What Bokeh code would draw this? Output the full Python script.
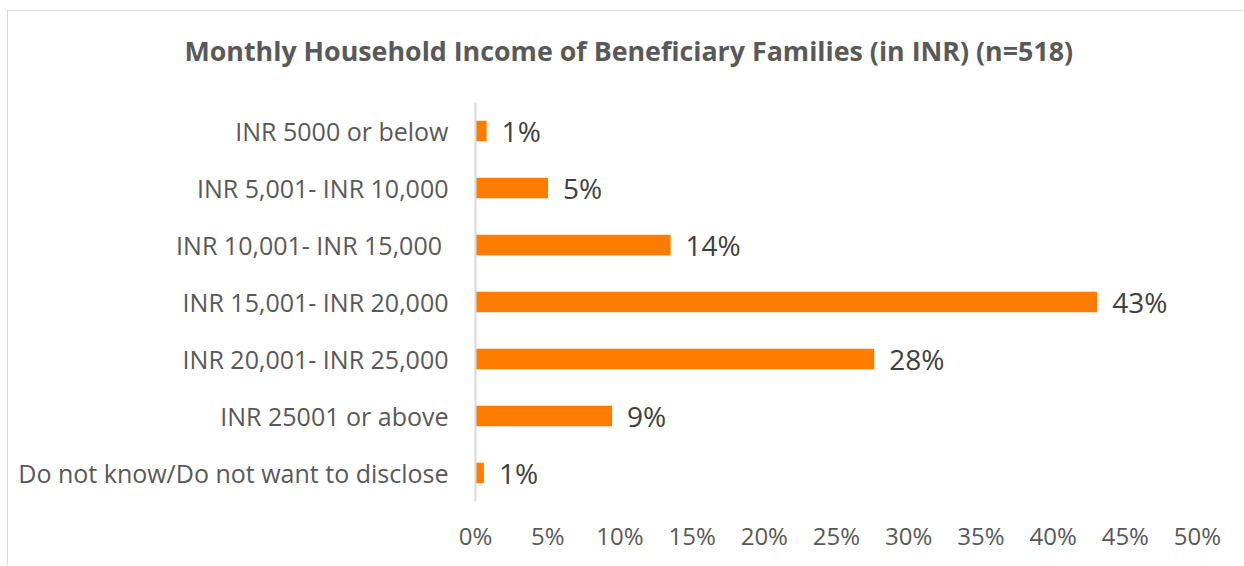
from bokeh.plotting import figure
from bokeh.models import ColumnDataSource, NumeralTickFormatter, FixedTicker, Title
from bokeh.core.properties import value
from bokeh.embed import file_html
from bokeh.resources import INLINE

categories = [
    "INR 5000 or below",
    "INR 5,001- INR 10,000",
    "INR  10,001- INR 15,000",
    "INR 15,001- INR 20,000",
    "INR 20,001- INR 25,000",
    "INR 25001 or above",
    "Do not know/Do not want to disclose",
]
shares = [0.0077, 0.0502, 0.1351, 0.4305, 0.2761, 0.0946, 0.0058]
share_labels = ["1%", "5%", "14%", "43%", "28%", "9%", "1%"]
x_ticks = [0, 0.05, 0.10, 0.15, 0.20, 0.25, 0.30, 0.35, 0.40, 0.45, 0.50]
title_text = "Monthly Household Income of Beneficiary Families (in INR) (n=518)"

FONT = "Open Sans"

src = ColumnDataSource(dict(cat=categories, v=shares, lab=share_labels))

# canvas origin is placed at page (8, 11) by the margin + border below
p = figure(
    y_range=list(reversed(categories)),
    x_range=(0, 0.5),
    width=1236, height=555,
    output_backend="svg", toolbar_location=None,
    min_border_left=467, min_border_right=47,
    min_border_top=91, min_border_bottom=65,
    title=title_text,
)
p.styles = {
    "margin-left": "7px", "margin-top": "10px",
    "border-left": "1px solid #d9d9d9", "border-top": "1px solid #d9d9d9",
}
p.outline_line_color = None
p.background_fill_color = "white"
p.border_fill_color = "white"
p.xgrid.grid_line_color = None
p.ygrid.grid_line_color = None

p.title.align = "left"
p.title.offset = -291
p.title.standoff = 10
p.title.text_font = FONT
p.title.text_font_style = "bold"
p.title.text_font_size = "26.8px"
p.title.text_color = "#595959"

# empty spacer panel between the title and the plot frame
p.add_layout(Title(text=" ", text_font_size="24px", standoff=0), "above")

p.hbar(y="cat", right="v", left=0, height=0.36, source=src,
       fill_color="#FF7C00", line_color=None)

p.text(x="v", y="cat", text="lab", source=src, x_offset=15,
       text_baseline="middle", text_align="left",
       text_font=value(FONT), text_font_size="28px", text_color="#404040")

p.xaxis.ticker = FixedTicker(ticks=x_ticks)
p.xaxis.formatter = NumeralTickFormatter(format="0%")
p.xaxis.axis_line_color = None
p.xaxis.major_tick_line_color = None
p.xaxis.minor_tick_line_color = None
p.xaxis.major_label_text_font = FONT
p.xaxis.major_label_text_font_size = "24px"
p.xaxis.major_label_text_color = "#595959"
p.xaxis.major_label_standoff = 11

p.yaxis.axis_line_color = "#d9d9d9"
p.yaxis.axis_line_width = 2
p.yaxis.major_tick_line_color = None
p.yaxis.minor_tick_line_color = None
p.yaxis.major_label_text_font = FONT
p.yaxis.major_label_text_font_size = "25px"
p.yaxis.major_label_text_color = "#595959"
p.yaxis.major_label_standoff = 21

open("out.html", "w").write(file_html(p, INLINE))
